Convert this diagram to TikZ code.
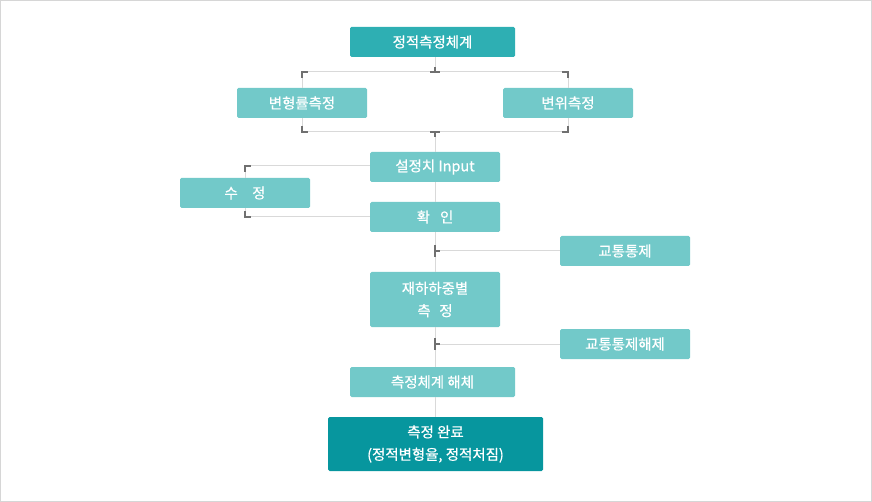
\documentclass[tikz,border=0pt]{standalone}
\usepackage{fontspec}
\setmainfont{Noto Sans CJK KR}[FakeBold=0.6]
\usepackage{tikz}

\definecolor{lightteal}{HTML}{72C9C9}
\definecolor{midteal}{HTML}{2EAFB3}
\definecolor{darkteal}{HTML}{07969E}
\definecolor{linegray}{HTML}{D9D9D9}
\definecolor{tickgray}{HTML}{707070}
\definecolor{framegray}{HTML}{D6D6D6}

\begin{document}
\begin{tikzpicture}[x=1bp,y=-1bp,
	box/.style={fill=lightteal, text=white, rounded corners=1.5bp, inner sep=0pt,
		minimum width=130bp, minimum height=30bp, align=center,
		font=\fontsize{14.5}{22.5}\selectfont},
	widebox/.style={box, minimum width=165bp},
	link/.style={draw=linegray, line width=1bp},
	tick/.style={draw=tickgray, line width=1.6bp}]
					\useasboundingbox (0,0) rectangle (872,502);
					\draw [framegray, line width=1.2bp] (0.6,0.6) rectangle (871.4,501.4);

					\node (top) [widebox, fill=midteal] at (432.5,42) {정적측정체계};
					\node (strain) [box] at (302,103) {변형률측정};
					\node (disp) [box] at (568,103) {변위측정};
					\node (setv) [box] at (435,167) {설정치 Input};
					\node (fix) [box] at (245,193) {수\hspace{1em}정};
					\node (check) [box] at (435,217) {확\hspace{0.7em}인};
					\node (traffic) [box] at (625,251) {교통통제};
					\node (load) [box, minimum height=55bp] at (435,299.5) {재하하중별\\측\hspace{0.6em}정};
					\node (release) [box] at (625,344) {교통통제해제};
					\node (dismantle) [widebox] at (432.5,382) {측정체계 해체};
					\node (done) [box, fill=darkteal, minimum width=215bp, minimum height=54bp] at (435.5,444) {측정 완료\\(정적변형율, 정적처짐)};

					\coordinate (jt) at (435,72);
					\coordinate (jb) at (435,132);
					\coordinate (tl) at (302,72);
					\coordinate (tr) at (568,72);
					\coordinate (bl) at (302,132);
					\coordinate (br) at (568,132);
					\coordinate (fa) at (245,166);
					\coordinate (fb) at (245,217);
					\coordinate (ja) at (435,251);
					\coordinate (jc) at (435,344);

					% branch to the two measurements
					\path [link] (top.south -| jt) edge (jt);
					\path [link] (tl) edge (tr);
					\path [link] (tl) edge (strain.north);
					\path [link] (tr) edge (disp.north);
					\path [link] (strain.south) edge (bl);
					\path [link] (disp.south) edge (br);
					\path [link] (bl) edge (br);
					\path [link] (jb) edge (setv.north);

					% main line
					\path [link] (setv.south) edge (check.north);
					\path [link] (check.south) edge (load.north);
					\path [link] (load.south) edge (dismantle.north -| load.south);
					\path [link] (dismantle.south -| load.south) edge (done.north -| load.south);

					% correction loop
					\draw [link] (setv.west |- fa) -- (fa) -- (fix.north);
					\draw [link] (fix.south) -- (fb) -- (check.west);

					% traffic
					\path [link] (traffic.west) edge (ja);
					\path [link] (release.west) edge (jc);

					% ticks
					\draw [tick] (tl) ++(0,6) -- (tl) -- ++(6,0);
					\draw [tick] (tr) ++(0,6) -- (tr) -- ++(-6,0);
					\draw [tick] (bl) ++(0,-6) -- (bl) -- ++(6,0);
					\draw [tick] (br) ++(0,-6) -- (br) -- ++(-6,0);
					\draw [tick] (jt) ++(-5,0) -- ++(10,0);
					\draw [tick] (jt) -- ++(0,-5);
					\draw [tick] (jb) ++(-5,0) -- ++(10,0);
					\draw [tick] (jb) -- ++(0,5);
					\draw [tick] (fa) ++(0,6) -- (fa) -- ++(6,0);
					\draw [tick] (fb) ++(0,-6) -- (fb) -- ++(6,0);
					\draw [tick] (ja) ++(0,-6) -- ++(0,12);
					\draw [tick] (ja) -- ++(5,0);
					\draw [tick] (jc) ++(0,-6) -- ++(0,12);
					\draw [tick] (jc) -- ++(5,0);
\end{tikzpicture}
\end{document}
